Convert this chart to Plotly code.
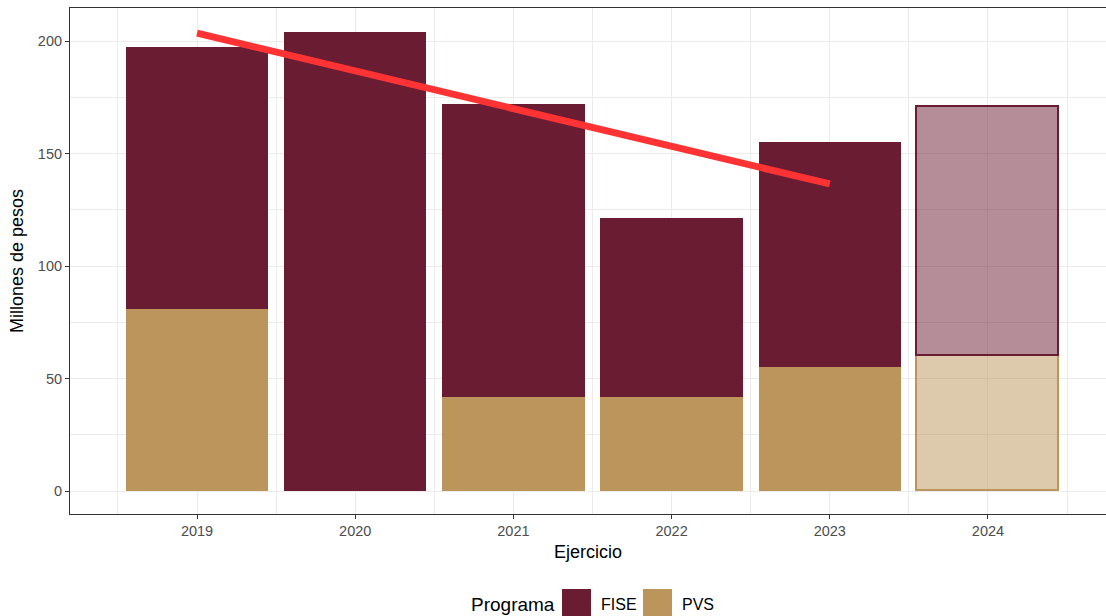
import plotly.graph_objects as go

years = [2019, 2020, 2021, 2022, 2023, 2024]
pvs = [81, 0, 42, 42, 55, 60]
fise = [116.5, 204, 130, 79.5, 100, 110.5]
trend_years = [2019, 2023]
trend_vals = [203.5, 136.5]

FISE_C = "#6A1C32"
PVS_C = "#BC955C"

def fills(hexc, last_alpha=0.5):
    r, g, b = int(hexc[1:3], 16), int(hexc[3:5], 16), int(hexc[5:7], 16)
    return [f"rgba({r},{g},{b},1)" if y != 2024 else f"rgba({r},{g},{b},{last_alpha})" for y in years]

line_w = [0 if y != 2024 else 1.8 for y in years]

fig = go.Figure()
fig.add_trace(go.Bar(x=years, y=pvs, width=0.9, name="PVS",
                     marker=dict(color=fills(PVS_C), line=dict(color=PVS_C, width=line_w)),
                     showlegend=False))
fig.add_trace(go.Bar(x=years, y=fise, width=0.9, name="FISE",
                     marker=dict(color=fills(FISE_C), line=dict(color=FISE_C, width=line_w)),
                     showlegend=False))
fig.add_trace(go.Scatter(x=trend_years, y=trend_vals, mode="lines",
                         line=dict(color="#FF3333", width=7), showlegend=False))

FONT = "Liberation Sans, Arial, sans-serif"
GRID = "#EBEBEB"

W, H = 1106, 616
L, R, T, B = 70, 0, 8, 102

fig.update_layout(
    width=W, height=H,
    margin=dict(l=L, r=R, t=T, b=B),
    barmode="stack", bargap=0,
    plot_bgcolor="white", paper_bgcolor="white",
    font=dict(family=FONT, color="#4D4D4D", size=14.5),
    xaxis=dict(range=[2018.197, 2024.746], tickvals=years, ticktext=[str(y) for y in years],
               showgrid=True, gridcolor=GRID, gridwidth=1.1, zeroline=False,
               showline=True, linecolor="#333333", linewidth=1.1, mirror=True,
               ticks="outside", ticklen=4, tickcolor="#333333", tickwidth=1.1,
               tickfont=dict(size=14.5, color="#4D4D4D"),
               minor=dict(tickvals=[2018.5, 2019.5, 2020.5, 2021.5, 2022.5, 2023.5, 2024.5],
                          showgrid=True, gridcolor=GRID, gridwidth=0.7, ticklen=0),
               title=dict(text="Ejercicio", font=dict(size=18, color="black"), standoff=6)),
    yaxis=dict(range=[-10.2, 214.7], tickvals=[0, 50, 100, 150, 200],
               showgrid=True, gridcolor=GRID, gridwidth=1.1, zeroline=False,
               showline=True, linecolor="#333333", linewidth=1.1,
               ticks="outside", ticklen=4, tickcolor="#333333", tickwidth=1.1,
               tickfont=dict(size=14.5, color="#4D4D4D"),
               minor=dict(tickvals=[25, 75, 125, 175], showgrid=True, gridcolor=GRID,
                          gridwidth=0.7, ticklen=0),
               title=dict(text="Millones de pesos", font=dict(size=18, color="black"), standoff=9)),
)

# legend drawn manually (ggplot-style large keys); paper coords relative to plot area
PW, PH = W - L - R, H - T - B
def px(x): return (x - L) / PW
def py(y): return (H - B - y) / PH

shapes = []
annos = []
annos.append(dict(xref="paper", yref="paper", x=px(557), y=py(604), xanchor="right", yanchor="middle",
                  text="Programa", showarrow=False, font=dict(size=19, color="black", family=FONT)))
for x0, col, lab in [(562, FISE_C, "FISE"), (643, PVS_C, "PVS")]:
    shapes.append(dict(type="rect", xref="paper", yref="paper", x0=px(x0), x1=px(x0 + 29),
                       y0=py(618), y1=py(589), fillcolor=col, line=dict(width=0)))
    annos.append(dict(xref="paper", yref="paper", x=px(x0 + 37), y=py(604), xanchor="left",
                      yanchor="middle", text=lab, showarrow=False,
                      font=dict(size=16, color="black", family=FONT)))
fig.update_layout(shapes=shapes, annotations=annos)

fig.write_html("out.html", config={"displayModeBar": False},
               post_script="document.body.style.margin='0';document.body.style.overflow='hidden';")
